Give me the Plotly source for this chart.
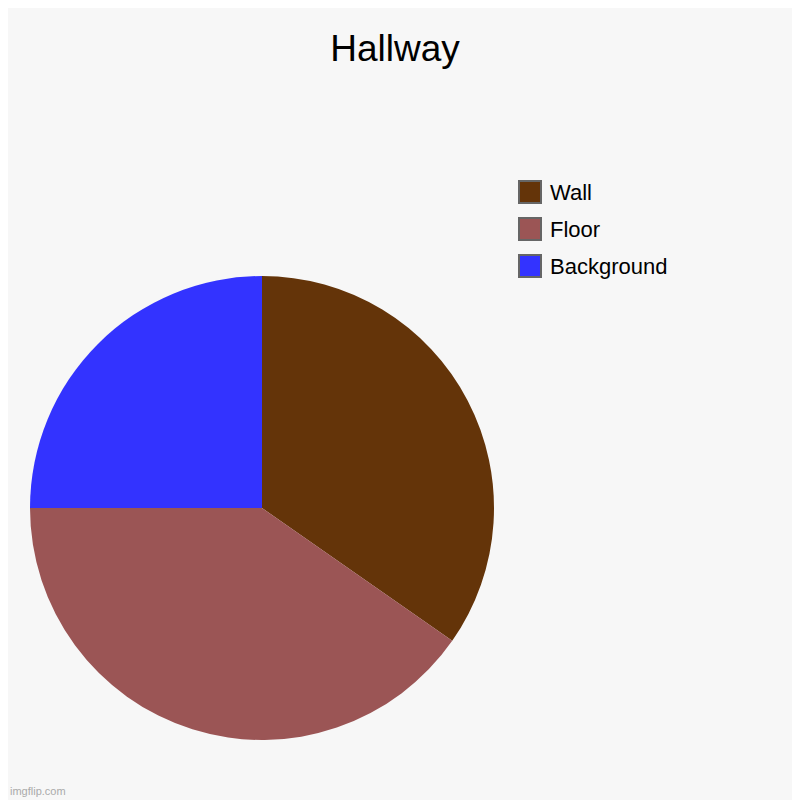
import plotly.graph_objects as go

# Data
labels = ['Wall', 'Floor', 'Background']
values = [34.7, 40.3, 25.0]
colors = ['#643409', '#9b5555', '#3333ff']

W = H = 800
OFF = 8  # page margin around the plot div


def px(x, y):
    # screen pixel -> paper coords
    return (x - OFF) / W, 1 - (y - OFF) / H


fig = go.Figure()

x0, y0 = px(30, 276)
x1, y1 = px(494, 740)
fig.add_trace(go.Pie(
    labels=labels, values=values, sort=False,
    direction='clockwise', rotation=0,
    marker=dict(colors=colors, line=dict(width=0)),
    textinfo='none', hoverinfo='label+percent', showlegend=False,
    domain=dict(x=[x0, x1], y=[y1, y0]),
))

# legend drawn by hand: big grey-edged squares like the original
shapes = []
annotations = []
for i, (lab, col) in enumerate(zip(labels, colors)):
    cy = 192 + 37 * i
    bx0, by0 = px(519, cy - 11)
    bx1, by1 = px(541, cy + 11)
    shapes.append(dict(type='rect', xref='paper', yref='paper',
                       x0=bx0, x1=bx1, y0=by1, y1=by0,
                       fillcolor=col, line=dict(color='#666666', width=2)))
    tx, ty = px(548, cy)
    annotations.append(dict(text=lab, x=tx, y=ty, xref='paper', yref='paper',
                            xanchor='left', yanchor='middle', showarrow=False,
                            font=dict(size=22, color='#000000')))

wx, wy = px(8, 791)
annotations.append(dict(text='imgflip.com', x=0, y=wy, xref='paper', yref='paper',
                        xanchor='left', yanchor='middle', showarrow=False,
                        font=dict(size=11, color='#aaaaaa')))

tx, ty = px(395, 48)
fig.update_layout(
    width=W, height=H,
    margin=dict(l=0, r=0, t=0, b=0),
    paper_bgcolor='#f7f7f7', plot_bgcolor='#f7f7f7',
    font=dict(family='Liberation Sans, Arial', color='#000000'),
    title=dict(text='Hallway', x=tx, xanchor='center', y=ty, yanchor='middle',
               font=dict(size=37)),
    shapes=shapes,
    annotations=annotations,
)

fig.write_html("out.html")
